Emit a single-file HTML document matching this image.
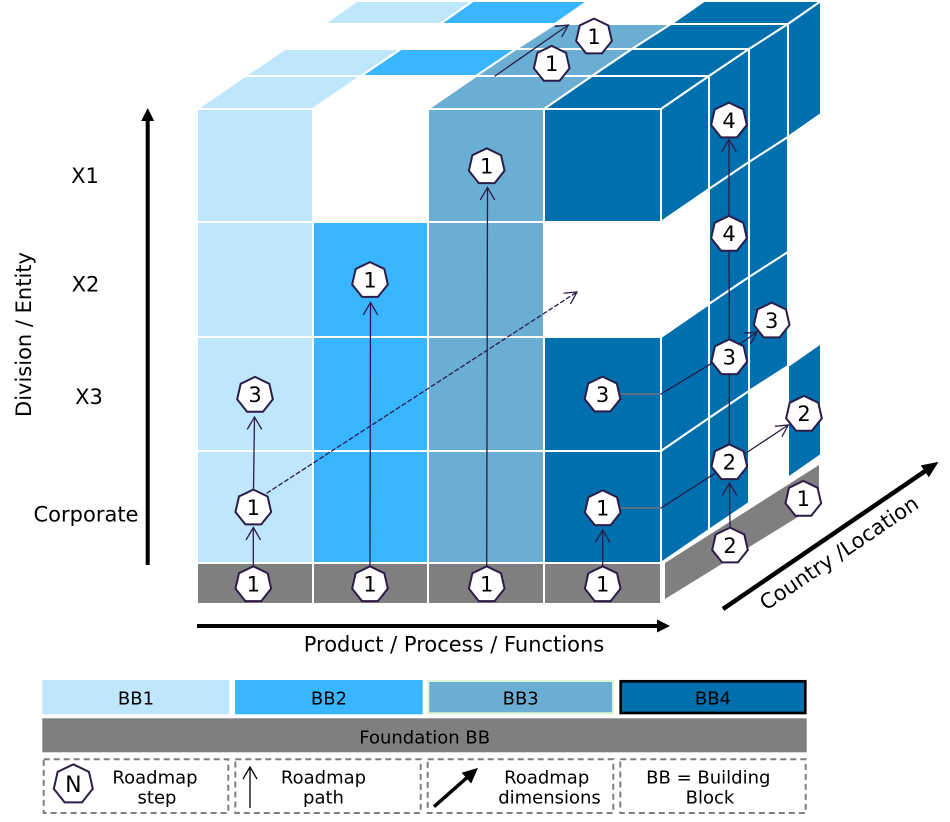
<!DOCTYPE html>
<html>
<head>
<meta charset="utf-8">
<style>
html,body{margin:0;padding:0;background:#fff;}
svg{display:block;}
text{font-family:"DejaVu Sans","Liberation Sans",sans-serif;fill:#000;}
</style>
</head>
<body>
<svg width="950" height="822" viewBox="0 0 950 822" xmlns="http://www.w3.org/2000/svg">
<defs>
<polygon id="hp" points="0,-18.3 14.31,-11.41 17.84,4.07 7.94,16.49 -7.94,16.49 -17.84,4.07 -14.31,-11.41" fill="#fff" stroke="#2C1C48" stroke-width="2" stroke-linejoin="miter"/>
</defs>

<!-- Front face cells -->
<g>
<rect x="198" y="110" width="114" height="111" fill="#BEE6FD"/>
<rect x="429" y="110" width="114" height="111" fill="#6AAED4"/>
<rect x="545" y="110" width="115" height="111" fill="#006FAD"/>

<rect x="198" y="223" width="114" height="113" fill="#BEE6FD"/>
<rect x="314" y="223" width="113" height="113" fill="#38B6FF"/>
<rect x="429" y="223" width="114" height="113" fill="#6AAED4"/>

<rect x="198" y="338" width="114" height="112" fill="#BEE6FD"/>
<rect x="314" y="338" width="113" height="112" fill="#38B6FF"/>
<rect x="429" y="338" width="114" height="112" fill="#6AAED4"/>
<rect x="545" y="338" width="115" height="112" fill="#006FAD"/>

<rect x="198" y="452" width="114" height="110" fill="#BEE6FD"/>
<rect x="314" y="452" width="113" height="110" fill="#38B6FF"/>
<rect x="429" y="452" width="114" height="110" fill="#6AAED4"/>
<rect x="545" y="452" width="115" height="110" fill="#006FAD"/>

<rect x="198" y="564" width="114" height="39" fill="#7F7F7F"/>
<rect x="314" y="564" width="113" height="39" fill="#7F7F7F"/>
<rect x="429" y="564" width="114" height="39" fill="#7F7F7F"/>
<rect x="545" y="564" width="115" height="39" fill="#7F7F7F"/>
</g>

<!-- Top faces -->
<g stroke="#fff" stroke-width="2" stroke-linejoin="miter">
<polygon points="197,109 313,109 361,76 245,76" fill="#BEE6FD"/>
<polygon points="245,76 361,76 401,49 285,49" fill="#BEE6FD"/>
<polygon points="324,24 440,24 473,1 357,1" fill="#BEE6FD"/>

<polygon points="361,76 476,76 516,49 401,49" fill="#38B6FF"/>
<polygon points="440,24 555,24 588,1 473,1" fill="#38B6FF"/>

<polygon points="428,109 544,109 592,76 476,76" fill="#6AAED4"/>
<polygon points="476,76 592,76 632,49 516,49" fill="#6AAED4"/>
<polygon points="516,49 632,49 671,24 555,24" fill="#6AAED4"/>

<polygon points="544,109 661,109 709,76 592,76" fill="#006FAD"/>
<polygon points="592,76 709,76 749,49 632,49" fill="#006FAD"/>
<polygon points="632,49 749,49 788,24 671,24" fill="#006FAD"/>
<polygon points="671,24 788,24 821,1 704,1" fill="#006FAD"/>
</g>

<!-- Side faces -->
<g stroke="#fff" stroke-width="2" stroke-linejoin="miter" fill="#006FAD">
<polygon points="661,109 709,76 709,189 661,222"/>
<polygon points="709,76 749,49 749,162 709,189"/>
<polygon points="749,49 788,24 788,137 749,162"/>
<polygon points="788,24 821,1 821,114 788,137"/>

<polygon points="709,189 749,162 749,277 709,304"/>
<polygon points="749,162 788,137 788,252 749,277"/>

<polygon points="661,337 709,304 709,418 661,451"/>
<polygon points="709,304 749,277 749,391 709,418"/>
<polygon points="749,277 788,252 788,366 749,391"/>

<polygon points="661,451 709,418 709,530 661,563"/>
<polygon points="709,418 749,391 749,503 709,530"/>
<polygon points="788,366 821,343 821,455 788,478"/>
</g>

<!-- Foundation side -->
<polygon points="665,563 819,465 819,504 665,599" fill="#7F7F7F"/>

<!-- Roadmap path lines -->
<g stroke="#2C1C48" stroke-width="1.3" fill="none" stroke-linecap="round">
<line x1="253.3" y1="566" x2="253.3" y2="527.5"/>
<polyline points="246.3,539.5 253.3,527.5 260.3,539.5"/>
<line x1="253.5" y1="489" x2="254.5" y2="417"/>
<polyline points="247.5,429 254.5,417 261.5,429"/>
<line x1="267" y1="493" x2="577" y2="292" stroke-dasharray="4 3"/>
<polyline points="564.1,293.1 577,292 570.7,303.4"/>
<line x1="370" y1="566" x2="370.5" y2="302.5"/>
<polyline points="363.5,314.5 370.5,302.5 377.5,314.5"/>
<line x1="486.7" y1="566" x2="487.5" y2="187.5"/>
<polyline points="480.5,199.5 487.5,187.5 494.5,199.5"/>
<line x1="602.7" y1="566" x2="602.7" y2="530"/>
<polyline points="595.7,542 602.7,530 609.7,542"/>
<line x1="620" y1="508" x2="661" y2="508" stroke="#8A7570"/>
<line x1="661" y1="508" x2="715" y2="473.3"/>
<line x1="620" y1="394" x2="661" y2="394" stroke="#8A7570"/>
<line x1="661" y1="394" x2="711.7" y2="363.3"/>
<line x1="730" y1="527" x2="729.5" y2="483"/>
<polyline points="722.5,495 729.5,483 736.5,495"/>
<line x1="729.3" y1="443" x2="729.3" y2="374"/>
<line x1="729.3" y1="339" x2="729" y2="251"/>
<line x1="729" y1="216" x2="729" y2="139.5"/>
<polyline points="722,151.5 729,139.5 736,151.5"/>
<line x1="746" y1="453" x2="788.3" y2="425"/>
<polyline points="775.4,426.2 788.3,425 782.1,436.4"/>
<line x1="740" y1="344" x2="757" y2="332"/>
<polyline points="744.1,333.3 757,332 750.8,343.4"/>
<line x1="495" y1="76" x2="568.3" y2="25"/>
<polyline points="555.4,26.3 568.3,25 562,36.4"/>
</g>

<!-- Badges -->
<g>
<use href="#hp" x="253.3" y="584.6"/>
<use href="#hp" x="370" y="584.6"/>
<use href="#hp" x="486.7" y="584.6"/>
<use href="#hp" x="602.7" y="584.6"/>
<use href="#hp" x="253.3" y="507.9"/>
<use href="#hp" x="255" y="395.2"/>
<use href="#hp" x="370" y="280.4"/>
<use href="#hp" x="486.7" y="166.6"/>
<use href="#hp" x="602.7" y="508.6"/>
<use href="#hp" x="602.5" y="394.9"/>
<use href="#hp" x="551.7" y="64.2"/>
<use href="#hp" x="594" y="36.9"/>
<use href="#hp" x="729" y="120.9"/>
<use href="#hp" x="729" y="234.2"/>
<use href="#hp" x="729.3" y="357.6"/>
<use href="#hp" x="771.7" y="320.9"/>
<use href="#hp" x="729.3" y="462.6"/>
<use href="#hp" x="804" y="414.2"/>
<use href="#hp" x="730" y="545.9"/>
<use href="#hp" x="803.3" y="499.2"/>
</g>
<g font-size="21" text-anchor="middle">
<text x="253.3" y="591.5">1</text>
<text x="370" y="591.5">1</text>
<text x="486.7" y="591.5">1</text>
<text x="602.7" y="591.5">1</text>
<text x="253.3" y="514.8">1</text>
<text x="255" y="402.1">3</text>
<text x="370" y="287.3">1</text>
<text x="486.7" y="173.5">1</text>
<text x="602.7" y="515.5">1</text>
<text x="602.5" y="401.8">3</text>
<text x="551.7" y="71.1">1</text>
<text x="594" y="43.8">1</text>
<text x="729" y="127.8">4</text>
<text x="729" y="241.1">4</text>
<text x="729.3" y="364.5">3</text>
<text x="771.7" y="327.8">3</text>
<text x="729.3" y="469.5">2</text>
<text x="804" y="421.1">2</text>
<text x="730" y="552.8">2</text>
<text x="803.3" y="506.1">1</text>
</g>

<!-- Axes -->
<line x1="147.7" y1="565" x2="147.7" y2="119" stroke="#000" stroke-width="4"/>
<polygon points="147.7,108 141.2,121 154.2,121" fill="#000"/>
<line x1="197" y1="626" x2="659" y2="626" stroke="#000" stroke-width="4"/>
<polygon points="670,626 657,619.5 657,632.5" fill="#000"/>
<line x1="723" y1="609" x2="926" y2="470.5" stroke="#000" stroke-width="4.5"/>
<polygon points="937,463 928.8,475.9 922,465.9" fill="#000" stroke="#000" stroke-width="1.5" stroke-linejoin="miter"/>

<!-- Axis labels -->
<g font-size="21">
<text x="85" y="183" text-anchor="middle">X1</text>
<text x="85.5" y="291.5" text-anchor="middle">X2</text>
<text x="89" y="404" text-anchor="middle">X3</text>
<text x="86" y="521.7" text-anchor="middle">Corporate</text>
<text transform="translate(31,334.5) rotate(-90)" text-anchor="middle">Division / Entity</text>
<text x="454" y="651.7" text-anchor="middle">Product / Process / Functions</text>
<text transform="translate(766,611) rotate(-34)">Country /Location</text>
</g>

<!-- Legend -->
<rect x="42.3" y="680" width="187" height="34.3" fill="#BEE6FD"/>
<rect x="235" y="680" width="187.7" height="34.3" fill="#38B6FF"/>
<rect x="428.3" y="681" width="184.7" height="32.3" fill="#6AAED4" stroke="#E2F2D6" stroke-width="2"/>
<rect x="620.7" y="681.3" width="184.6" height="31.7" fill="#006FAD" stroke="#000" stroke-width="2.7"/>
<rect x="42.3" y="718.3" width="764.4" height="34" fill="#7F7F7F"/>
<g font-size="18" text-anchor="middle">
<text x="136" y="704.6">BB1</text>
<text x="329" y="704.6">BB2</text>
<text x="520.7" y="704.6">BB3</text>
<text x="713" y="704.6">BB4</text>
<text x="424.7" y="743.3">Foundation BB</text>
</g>

<g fill="none" stroke="#7F7F7F" stroke-width="2" stroke-dasharray="6 4">
<rect x="43.7" y="759.3" width="184.6" height="53.7"/>
<rect x="235.3" y="759.3" width="185.4" height="53.7"/>
<rect x="427.7" y="759.3" width="185.6" height="53.7"/>
<rect x="620.3" y="759.3" width="185.4" height="53.7"/>
</g>

<polygon points="73.3,764.3 88.94,771.83 92.8,788.75 81.98,802.32 64.62,802.32 53.8,788.75 57.66,771.83" fill="#fff" stroke="#2C1C48" stroke-width="2"/>
<text x="73.3" y="792" font-size="22" text-anchor="middle">N</text>

<g stroke="#000" stroke-width="1.3" fill="none">
<line x1="250" y1="808" x2="250" y2="767"/>
<polyline points="243,779 250,767 257,779"/>
</g>

<line x1="434" y1="806.7" x2="468" y2="776.7" stroke="#000" stroke-width="3.5"/>
<polygon points="476.7,769 471,782.1 463,773.1" fill="#000" stroke="#000" stroke-width="1.5"/>

<g font-size="18" text-anchor="middle">
<text x="155" y="783.3">Roadmap</text>
<text x="157" y="803.3">step</text>
<text x="323.5" y="783.3">Roadmap</text>
<text x="323.5" y="803.3">path</text>
<text x="546.7" y="783.3">Roadmap</text>
<text x="549.5" y="803.3">dimensions</text>
<text x="708.3" y="783.3">BB = Building</text>
<text x="710" y="803.3">Block</text>
</g>
</svg>
</body>
</html>
